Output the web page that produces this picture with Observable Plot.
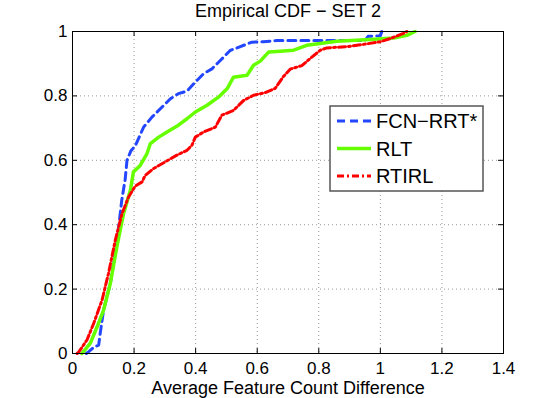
<!DOCTYPE html>
<html><head><meta charset="utf-8">
<script src="https://cdn.jsdelivr.net/npm/d3@7"></script>
<script src="https://cdn.jsdelivr.net/npm/@observablehq/plot@0.6"></script>
<style>
body{margin:0;background:#fff;}
#wrap{position:relative;width:556px;height:398px;font-family:"Liberation Sans",Arial,Helvetica,sans-serif;}
#legend{position:absolute;left:329px;top:105px;}
</style></head>
<body><div id="wrap"><div id="chart"></div><div id="legend"></div></div>
<script>
const xTicks = [0, 0.2, 0.4, 0.6, 0.8, 1, 1.2, 1.4];
const yTicks = [0, 0.2, 0.4, 0.6, 0.8, 1];
const xTickLabels = ["0", "0.2", "0.4", "0.6", "0.8", "1", "1.2", "1.4"];
const yTickLabels = ["0", "0.2", "0.4", "0.6", "0.8", "1"];
const seriesNames = ["FCN−RRT*", "RLT", "RTIRL"];
const seriesColors = ["#2346ff", "#66ff00", "#ff0000"];

const fcnX = [0.045,0.052,0.07,0.085,0.09,0.101,0.123,0.144,0.16,0.171,0.177,0.19,0.204,0.231,0.258,0.296,0.318,0.344,0.372,0.399,0.426,0.453,0.48,0.512,0.539,0.583,0.62,0.664,0.95,0.96,1.0,1.005];
const fcnY = [0,0.005,0.02,0.026,0.063,0.135,0.218,0.342,0.476,0.54,0.6,0.63,0.645,0.703,0.734,0.77,0.791,0.807,0.815,0.843,0.869,0.884,0.91,0.941,0.951,0.967,0.968,0.972,0.972,0.985,0.987,1.0];

const rltX = [0.03,0.036,0.058,0.08,0.101,0.123,0.144,0.166,0.188,0.198,0.22,0.242,0.253,0.28,0.307,0.344,0.372,0.399,0.437,0.474,0.502,0.523,0.567,0.588,0.61,0.637,0.675,0.718,0.761,0.859,0.967,1.043,1.086,1.113];
const rltY = [0,0.006,0.032,0.083,0.135,0.218,0.331,0.435,0.507,0.564,0.584,0.621,0.652,0.672,0.688,0.709,0.729,0.75,0.771,0.796,0.822,0.858,0.864,0.895,0.908,0.936,0.939,0.942,0.957,0.97,0.975,0.98,0.988,1.0];

const rtirlX = [0.015,0.02,0.047,0.069,0.096,0.117,0.139,0.161,0.182,0.204,0.226,0.236,0.263,0.301,0.339,0.372,0.388,0.399,0.426,0.464,0.485,0.523,0.556,0.588,0.625,0.658,0.685,0.707,0.745,0.772,0.805,0.826,0.891,0.945,0.999,1.032,1.075,1.086];
const rtirlY = [0,0.004,0.042,0.094,0.166,0.249,0.352,0.435,0.486,0.52,0.533,0.553,0.574,0.595,0.616,0.631,0.647,0.672,0.688,0.703,0.74,0.755,0.786,0.802,0.81,0.823,0.86,0.883,0.894,0.916,0.942,0.949,0.953,0.96,0.968,0.978,0.994,1.0];

const toRows = (xs, ys) => xs.map((x, i) => ({x, y: ys[i]}));

const W = 556, H = 398, mT = 31, mB = 45, mL = 72, mR = 53;
const plotH = H - mT - mB, plotW = W - mL - mR;
const font = "'Liberation Sans', Arial, Helvetica, sans-serif";
const dashes = ["8,5", null, "7,3,2,3"];

const chart = Plot.plot({
  width: W, height: H,
  marginTop: mT, marginBottom: mB, marginLeft: mL, marginRight: mR,
  style: {fontFamily: font, fontSize: "17px", background: "white", color: "black"},
  x: {domain: [0, 1.4]},
  y: {domain: [0, 1]},
  marks: [
    Plot.ruleX(xTicks.slice(1, -1), {x: d => d, stroke: "#9a9a9a", strokeDasharray: "1,3"}),
    Plot.ruleY(yTicks.slice(1, -1), {y: d => d, stroke: "#9a9a9a", strokeDasharray: "1,3"}),
    Plot.ruleX(xTicks, {x: d => d, insetTop: plotH - 5, stroke: "black"}),
    Plot.ruleX(xTicks, {x: d => d, insetBottom: plotH - 5, stroke: "black"}),
    Plot.ruleY(yTicks, {y: d => d, insetRight: plotW - 5, stroke: "black"}),
    Plot.ruleY(yTicks, {y: d => d, insetLeft: plotW - 5, stroke: "black"}),
    Plot.axisX(xTicks, {tickSize: 0, tickPadding: 8, fontSize: 17, label: null,
      tickFormat: d => xTickLabels[xTicks.indexOf(d)]}),
    Plot.axisY(yTicks, {tickSize: 0, tickPadding: 5, fontSize: 17, label: null,
      tickFormat: d => yTickLabels[yTicks.indexOf(d)]}),
    Plot.line(toRows(fcnX, fcnY), {x: "x", y: "y", stroke: seriesColors[0], strokeWidth: 3, strokeDasharray: dashes[0]}),
    Plot.line(toRows(rltX, rltY), {x: "x", y: "y", stroke: seriesColors[1], strokeWidth: 3.5}),
    Plot.line(toRows(rtirlX, rtirlY), {x: "x", y: "y", stroke: seriesColors[2], strokeWidth: 3, strokeDasharray: dashes[2]}),
    Plot.frame({stroke: "black"}),
    Plot.text(["Empirical CDF − SET 2"], {frameAnchor: "top", lineAnchor: "top", dy: -27, fontSize: 18, fill: "black"}),
    Plot.text(["Average Feature Count Difference"], {frameAnchor: "bottom", lineAnchor: "top", dy: 28, fontSize: 18, fill: "black"})
  ]
});
document.getElementById("chart").appendChild(chart);

// legend
const lg = d3.select("#legend").append("svg").attr("width", 156).attr("height", 88)
  .style("font-family", font);
lg.append("rect").attr("x", 1).attr("y", 1).attr("width", 153).attr("height", 85)
  .attr("fill", "white").attr("stroke", "#555").attr("stroke-width", 1.5);
seriesNames.forEach((name, i) => {
  const cy = 16 + i * 27.5;
  lg.append("line").attr("x1", 8).attr("x2", 42).attr("y1", cy).attr("y2", cy)
    .attr("stroke", seriesColors[i]).attr("stroke-width", i === 1 ? 3.5 : 3)
    .attr("stroke-dasharray", dashes[i]);
  lg.append("text").attr("x", 47).attr("y", cy).attr("dy", "0.36em")
    .attr("font-size", 20).attr("fill", "black").text(name);
});
</script></body></html>
